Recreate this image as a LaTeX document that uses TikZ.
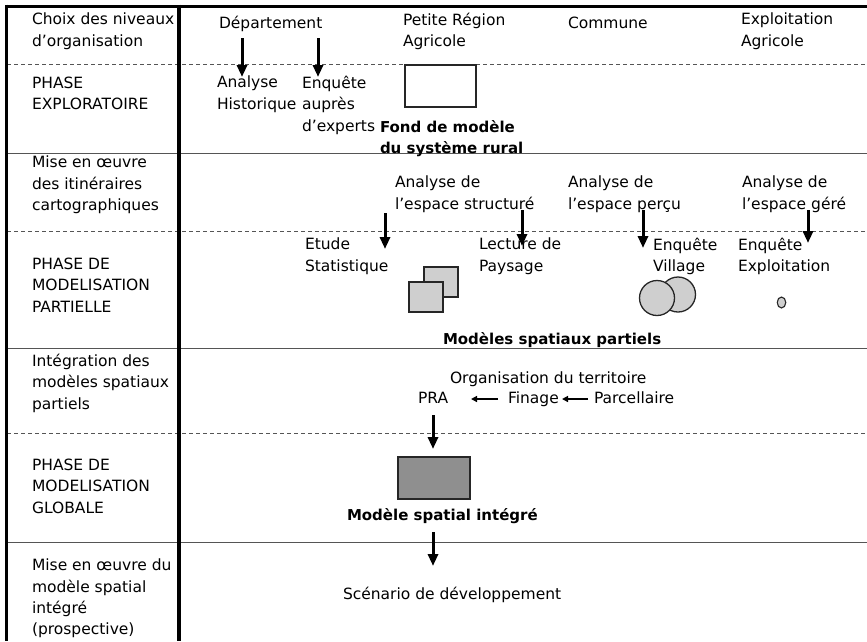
\documentclass[tikz,border=0pt]{standalone}
\usepackage{fontspec}
\setmainfont{DejaVu Sans}
\usetikzlibrary{arrows.meta,shapes.geometric}
\definecolor{lightfill}{HTML}{CFCFCF}
\definecolor{darkfill}{HTML}{8F8F8F}
\definecolor{rulegray}{HTML}{555555}
\begin{document}
\begin{tikzpicture}[x=1pt,y=-1pt,
  txt/.style={anchor=north west, inner sep=0pt, outer sep=0pt, align=left,
    font=\fontsize{15.5}{21.3}\selectfont, execute at begin node=\strut, yshift=14.9pt},
  btxt/.style={txt, font=\fontsize{15}{21.3}\selectfont\bfseries},
  bigarrow/.style={line width=3pt, -{Triangle[width=10pt,length=12pt]}},
  smallarrow/.style={line width=1.4pt, -{Triangle[width=6pt,length=6pt]}},
  solidrule/.style={draw=rulegray, line width=1pt},
  dashrule/.style={draw=rulegray, line width=0.9pt, dash pattern=on 4pt off 3pt},
  shapebox/.style={draw=black!85, line width=1.3pt, inner sep=0pt, outer sep=0pt}
]
\useasboundingbox (0,0) rectangle (867,641);
\fill[white] (0,0) rectangle (867,641);

% horizontal rules
\draw[dashrule] (7,64) -- (867,64);
\draw[solidrule] (7,153) -- (867,153);
\draw[dashrule] (7,231) -- (867,231);
\draw[solidrule] (7,348) -- (867,348);
\draw[dashrule] (7,433) -- (867,433);
\draw[solidrule] (7,542) -- (867,542);
% frame
\draw[line width=3pt] (5,6) -- (867,6);
\draw[line width=3pt] (6.5,4.5) -- (6.5,641);
\draw[line width=3.4pt] (179,4.5) -- (179,641);

% left column
\node[txt] (l1) at (32,28) {Choix des niveaux\\d'organisation};
\node[txt] (l2) at (32,92) {PHASE\\EXPLORATOIRE};
\node[txt] (l3) at (32,171) {Mise en œuvre\\des itinéraires\\cartographiques};
\node[txt] (l4) at (32,273) {PHASE DE\\MODELISATION\\PARTIELLE};
\node[txt] (l5) at (32,369) {Intégration des\\modèles spatiaux\\partiels};
\node[txt] (l6) at (32,474) {PHASE DE\\MODELISATION\\GLOBALE};
\node[txt] (l7) at (32,574) {Mise en œuvre du\\modèle spatial\\intégré\\(prospective)};

% header levels
\node[txt] (dep) at (219,28) {Département};
\node[txt] (pra0) at (403,28) {Petite Région\\Agricole};
\node[txt] (com) at (568,28) {Commune};
\node[txt] (exp0) at (741,28) {Exploitation\\Agricole};

% exploratory phase
\node[txt] (hist) at (217,91) {Analyse\\Historique};
\node[txt] (expt) at (302,91) {Enquête\\auprès\\d'experts};
\node[shapebox, fill=white, minimum width=71pt, minimum height=42pt, anchor=north west] (fond) at (405,65) {};
\node[btxt] (fondlbl) at (380,135) {Fond de modèle\\du système rural};

\coordinate (a1s) at (242,38); \coordinate (a1e) at (242,77);
\coordinate (a2s) at (318,38); \coordinate (a2e) at (318,77);
\draw[bigarrow] (a1s) -- (a1e);
\draw[bigarrow] (a2s) -- (a2e);

% itineraries
\node[txt] (astr) at (395,191) {Analyse de\\l'espace structuré};
\node[txt] (aper) at (568,191) {Analyse de\\l'espace perçu};
\node[txt] (ager) at (742,191) {Analyse de\\l'espace géré};

\coordinate (a3s) at (385,213); \coordinate (a3e) at (385,249);
\coordinate (a4s) at (522,210); \coordinate (a4e) at (522,246);
\coordinate (a5s) at (643,210); \coordinate (a5e) at (643,248);
\coordinate (a6s) at (808,210); \coordinate (a6e) at (808,243);

% partial modelling
\node[txt] (stat) at (305,253) {Etude\\Statistique};
\node[txt] (pays) at (479,253) {Lecture de\\Paysage};
\node[txt] (vill) at (653,253) {Enquête\\Village};
\node[txt] (expl) at (738,253) {Enquête\\Exploitation};

\draw[bigarrow] (a3s) -- (a3e);
\draw[bigarrow] (a4s) -- (a4e);
\draw[bigarrow] (a5s) -- (a5e);
\draw[bigarrow] (a6s) -- (a6e);

\node[shapebox, fill=lightfill, minimum width=34pt, minimum height=30pt, anchor=north west] (sq1) at (424,267) {};
\node[shapebox, fill=lightfill, minimum width=34pt, minimum height=30pt, anchor=north west] (sq2) at (409,282) {};
\node[shapebox, fill=lightfill, circle, minimum size=35pt] (c2) at (678,294.5) {};
\node[shapebox, fill=lightfill, circle, minimum size=35pt] (c1) at (657,298) {};
\node[shapebox, fill=lightfill, ellipse, minimum width=8.5pt, minimum height=11pt, line width=1.1pt] (el) at (781.5,302.5) {};

\node[btxt] (msp) at (443,344) {Modèles spatiaux partiels};

% integration
\node[txt] (org) at (450,383) {Organisation du territoire};
\node[txt] (pra) at (418,403) {PRA};
\node[txt] (fin) at (508,403) {Finage};
\node[txt] (par) at (594,403) {Parcellaire};
\coordinate (t1s) at (498,399); \coordinate (t1e) at (471,399);
\coordinate (t2s) at (588,399); \coordinate (t2e) at (562,399);
\draw[smallarrow] (t1s) -- (t1e);
\draw[smallarrow] (t2s) -- (t2e);

\coordinate (a7s) at (433,415); \coordinate (a7e) at (433,449);
\draw[bigarrow] (a7s) -- (a7e);

% global modelling
\node[shapebox, fill=darkfill, minimum width=72pt, minimum height=42pt, anchor=north west] (glob) at (398,457) {};
\node[btxt] (msi) at (347,520) {Modèle spatial intégré};

\coordinate (a8s) at (433,532); \coordinate (a8e) at (433,566);
\draw[bigarrow] (a8s) -- (a8e);

\node[txt] (scen) at (343,599) {Scénario de développement};
\end{tikzpicture}
\end{document}
